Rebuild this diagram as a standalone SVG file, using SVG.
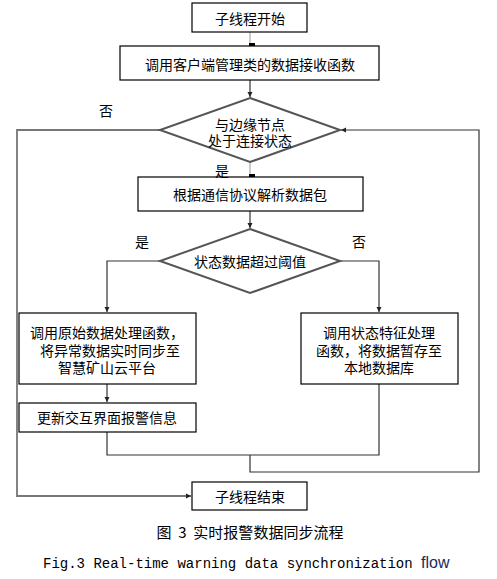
<svg xmlns="http://www.w3.org/2000/svg" width="497" height="579" viewBox="0 0 497 579">
<defs>
<marker id="arr" markerWidth="6" markerHeight="6" refX="5" refY="3" orient="auto" markerUnits="userSpaceOnUse"><path d="M0,0.5 L5,3 L0,5.5 z" fill="#222"/></marker>
<marker id="sq" markerWidth="6" markerHeight="6" refX="3" refY="5" orient="auto" markerUnits="userSpaceOnUse"><rect x="0" y="0" width="6" height="6" fill="#000"/></marker>
<style>
.box{fill:#fff;stroke:#000;stroke-width:1.2}
.dia{fill:#fff;stroke:#555;stroke-width:2}
.t{font-family:"Noto Sans CJK SC","Noto Sans CJK JP",sans-serif;font-size:14px;fill:#000;text-anchor:middle;dominant-baseline:central}
.c{fill:none;stroke:#333;stroke-width:1.2}
.g{fill:none;stroke:#777;stroke-width:1.8}
.lt{fill:none;stroke:#aaa;stroke-width:1.2}
</style>
</defs>
<g id="connectors">
<line class="lt" x1="250" y1="32" x2="250" y2="46" marker-end="url(#sq)"/>
<line class="c" x1="250" y1="80" x2="250" y2="97" marker-end="url(#arr)"/>
<line class="lt" x1="250" y1="162" x2="250" y2="177" marker-end="url(#sq)"/>
<line class="c" x1="250" y1="211" x2="250" y2="228" marker-end="url(#arr)"/>
<polyline class="c" points="160,261 107,261 107,312" marker-end="url(#arr)"/>
<polyline class="c" points="340,261 379,261 379,312" marker-end="url(#arr)"/>
<line class="c" x1="107" y1="384" x2="107" y2="402" marker-end="url(#arr)"/>
<polyline class="c" points="107,432 107,455 379,455 379,384"/>
<polyline class="c" points="250,455 250,472 479,472 479,130 341,130" marker-end="url(#arr)"/>
<polyline class="g" points="160,130 17,130 17,496 191,496" marker-end="url(#arr)"/>
</g>
<g id="start"><rect class="box" x="192" y="3" width="115" height="29"/><text class="t" x="250" y="18">子线程开始</text></g>
<g id="recv"><rect class="box" x="120" y="46" width="259" height="34"/><text class="t" x="250" y="64">调用客户端管理类的数据接收函数</text></g>
<g id="conn"><polygon class="dia" points="250,98 340,130 250,162 160,130"/><text class="t" x="250" y="124"><tspan x="250">与边缘节点</tspan><tspan x="250" dy="16">处于连接状态</tspan></text></g>
<g id="parse"><rect class="box" x="138" y="177" width="225" height="34"/><text class="t" x="250" y="194">根据通信协议解析数据包</text></g>
<g id="thresh"><polygon class="dia" points="250,229 340,261 250,293 160,261"/><text class="t" x="250" y="261">状态数据超过阈值</text></g>
<g id="raw"><rect class="box" x="19" y="313" width="177" height="71"/><text class="t" x="107" y="332"><tspan x="107">调用原始数据处理函数，</tspan><tspan x="110" dy="18">将异常数据实时同步至</tspan><tspan x="107" dy="17">智慧矿山云平台</tspan></text></g>
<g id="local"><rect class="box" x="301" y="313" width="157" height="71"/><text class="t" x="379" y="332"><tspan x="379">调用状态特征处理</tspan><tspan x="379" dy="18">函数，将数据暂存至</tspan><tspan x="379" dy="17">本地数据库</tspan></text></g>
<g id="update"><rect class="box" x="19" y="403" width="177" height="29"/><text class="t" x="107" y="417">更新交互界面报警信息</text></g>
<g id="end"><rect class="box" x="192" y="482" width="115" height="28"/><text class="t" x="250" y="496">子线程结束</text></g>
<g id="labels">
<text class="t" x="106" y="110">否</text>
<text class="t" x="222" y="170">是</text>
<text class="t" x="142" y="241">是</text>
<text class="t" x="359" y="241">否</text>
</g>
<text class="t" x="250" y="531" style="font-size:15px" xml:space="preserve">图  3  实时报警数据同步流程</text>
<text x="43" y="568" style="font-family:'Liberation Mono',monospace;font-size:14px;fill:#000">Fig.3 Real-time warning data synchronization <tspan style="font-family:'Liberation Sans',sans-serif;font-size:16px;fill:#1a2a5c">flow</tspan></text>
</svg>
